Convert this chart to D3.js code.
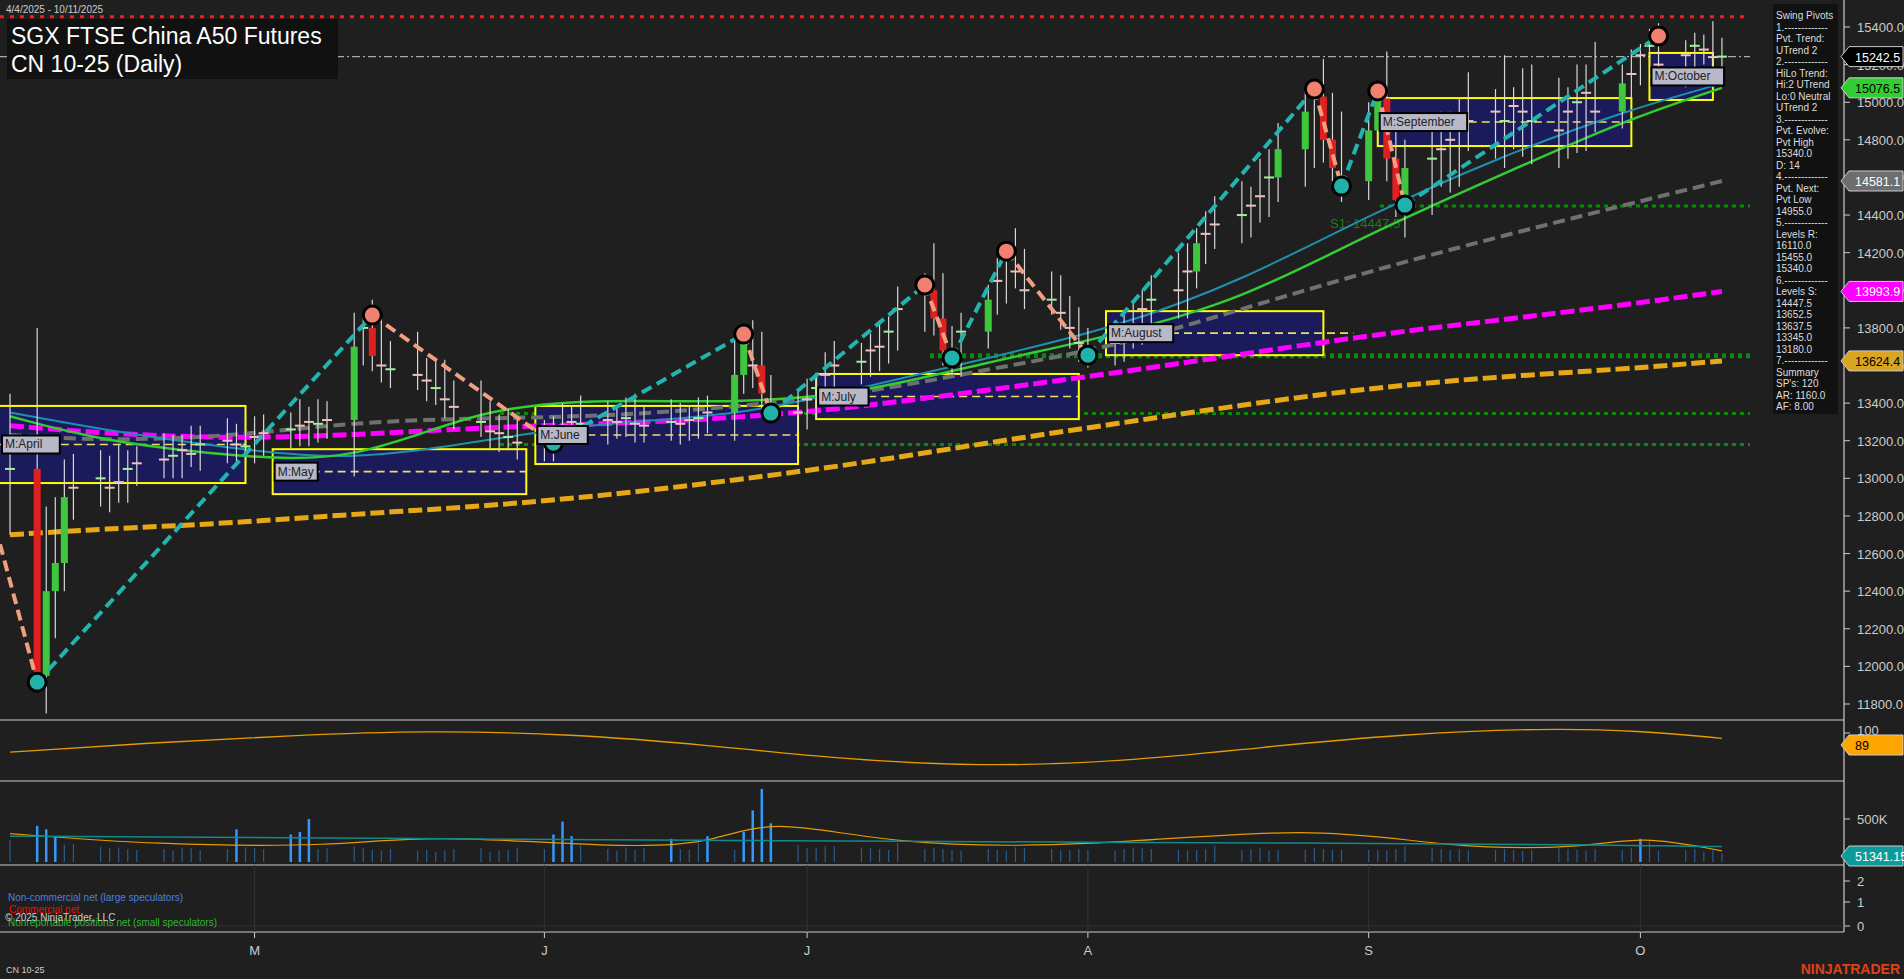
<!DOCTYPE html><html><head><meta charset="utf-8">
<script src="https://cdn.jsdelivr.net/npm/d3@7"></script>
<style>body{margin:0;background:#1f1f1f}svg{display:block}text{font-family:Arial,"Liberation Sans",sans-serif}</style></head><body>
<svg id="c" width="1904" height="979"></svg>
<script>
const startDate="2025-04-04";
const closes=[13050,11950,12400,12550,12900,12950,13000,12950,12980,13050,13080,13100,13120,13150,13130,13180,13200,13180,13170,13220,13240,13260,13280,13300,13290,13310,13700,13800,13650,13600,13580,13550,13520,13480,13420,13380,13300,13250,13240,13220,13190,13200,13250,13280,13300,13290,13310,13300,13320,13290,13280,13300,13290,13310,13320,13350,13550,13720,13600,13450,13380,13350,13420,13480,13550,13600,13620,13680,13700,13780,13900,14000,13850,13680,13650,13780,13950,14050,14180,14100,14000,13950,13880,13800,13720,13680,13720,13780,13820,13900,13950,14000,14100,14250,14300,14350,14400,14450,14500,14600,14750,14950,15030,14800,14650,14580,14850,15020,14700,14480,14650,14700,14750,14800,14850,14900,14950,14900,14980,14950,14900,14850,14950,15000,15050,14950,15100,15150,15250,15300,15200,15250,15300,15280,15240,15242.5];
const wickUp=[300,750,450,350,200,180,150,120,200,100,90,140,110,80,130,100,120,90,150,110,100,90,140,80,120,100,180,60,150,220,130,200,90,120,150,100,140,110,90,130,100,110,80,120,90,140,100,80,110,130,90,120,100,80,110,90,200,60,120,180,100,90,110,80,120,130,100,90,140,80,120,90,250,240,130,100,80,120,60,150,120,100,130,90,110,80,120,90,110,100,130,200,150,80,120,150,180,100,200,150,140,120,70,200,250,300,150,60,250,200,150,180,200,150,170,260,120,300,100,200,250,230,130,200,150,270,100,130,60,90,120,80,70,60,150,100];
const wickDn=[350,60,200,250,150,120,100,130,80,110,90,80,100,120,70,90,100,110,80,90,100,80,90,110,100,80,300,100,80,90,100,80,110,90,100,120,80,90,100,70,90,100,110,80,90,100,110,90,80,100,90,80,110,90,100,80,150,100,120,90,80,100,90,110,80,90,100,80,110,90,100,120,90,80,100,110,90,80,120,90,100,80,90,110,100,90,80,100,90,110,80,100,150,90,110,80,100,120,90,110,130,200,300,120,100,110,100,80,120,90,200,250,150,230,250,110,200,250,150,240,230,200,150,220,260,110,90,80,60,70,80,120,70,80,70,80];
const volume=[250,420,380,300,200,210,180,160,170,150,140,150,130,170,160,140,150,380,170,160,150,320,350,500,150,160,180,160,140,130,150,130,140,120,130,150,160,120,130,140,170,150,320,470,300,200,150,130,170,140,160,270,150,140,220,300,140,350,600,850,450,200,160,170,190,180,170,160,150,140,220,150,160,150,140,130,150,140,130,170,160,150,130,140,150,140,130,150,170,160,150,140,130,140,150,190,140,150,160,130,140,140,160,150,140,140,140,140,130,150,180,160,150,140,150,130,140,150,140,130,140,160,150,140,130,150,140,160,270,240,130,140,150,120,140,100];
const volAvgDates=["2025-04-04","2025-04-20","2025-05-10","2025-05-20","2025-06-10","2025-06-20","2025-06-27","2025-07-10","2025-08-01","2025-08-26","2025-09-10","2025-09-25","2025-10-01","2025-10-10"];
const volAvg=[330,200,180,320,170,200,520,200,170,430,160,160,310,130];
const volSlow=[300,290,280,270,260,250,250,240,230,220,210,200,190,180];
const oscDates=["2025-04-04","2025-04-20","2025-05-05","2025-05-20","2025-06-05","2025-06-20","2025-07-05","2025-07-20","2025-08-05","2025-08-20","2025-09-05","2025-09-20","2025-10-01","2025-10-10"];
const oscVals=[60,80,95,105,98,75,45,30,40,70,98,110,105,89];
const maDates=["2025-04-04","2025-04-14","2025-04-28","2025-05-12","2025-05-26","2025-06-09","2025-06-23","2025-07-07","2025-07-21","2025-08-04","2025-08-18","2025-09-01","2025-09-15","2025-09-29","2025-10-10"];
const maOrange=[12700,12730,12760,12810,12850,12910,12990,13080,13190,13290,13390,13480,13540,13580,13624.4];
const maMagenta=[13280,13240,13210,13230,13270,13290,13320,13380,13470,13560,13660,13760,13840,13920,13993.9];
const maGray=[13230,13200,13220,13300,13320,13330,13380,13450,13580,13700,13900,14100,14280,14450,14581.1];
const maGreen=[13330,13200,13120,13080,13380,13420,13400,13450,13620,13760,13950,14300,14600,14900,15076.5];
const maTeal=[13350,13260,13160,13090,13200,13300,13330,13480,13640,13800,14050,14400,14700,14950,15100];
const pivotDates=["2025-04-07","2025-05-14","2025-06-03","2025-06-24","2025-06-27","2025-07-14","2025-07-17","2025-07-23","2025-08-01","2025-08-26","2025-08-29","2025-09-02","2025-09-05","2025-10-03"];
const pivotVals=[11916,13868,13187,13767,13347,14028,13640,14208,13655,15070,14554,15060,14453,15352];
const monthNames=["M:April","M:May","M:June","M:July","M:August","M:September","M:October"];
const monthStart=["2025-04-01","2025-05-03","2025-06-01","2025-07-02","2025-08-03","2025-09-02","2025-10-02"];
const monthEnd=["2025-04-30","2025-05-31","2025-06-30","2025-07-31","2025-08-27","2025-09-30","2025-10-09"];
const monthHi=[13385,13155,13385,13555,13889,15022,15262];
const monthLo=[12975,12916,13076,13315,13655,14767,15012];
const supportLevels=[14447.5,13652.5,13345,13180];
const priceTicks=d3.range(11800,15401,200);
const sidebar=["Swing Pivots","1.-------------","Pvt. Trend:","UTrend 2","2.-------------","HiLo Trend:","Hi:2 UTrend","Lo:0 Neutral","UTrend 2","3.-------------","Pvt. Evolve:","Pvt High","15340.0","D: 14","4.-------------","Pvt. Next:","Pvt Low","14955.0","5.-------------","Levels R:","16110.0","15455.0","15340.0","6.-------------","Levels S:","14447.5","13652.5","13637.5","13345.0","13180.0","7.-------------","Summary","SP's: 120","AR: 1160.0","AF: 8.00"];
const tags=[{v:15242.5,t:"15242.5",bg:"#000",fg:"#fff"},{v:15076.5,t:"15076.5",bg:"#32cd32",fg:"#000"},{v:14581.1,t:"14581.1",bg:"#6e6e6e",fg:"#fff"},{v:13993.9,t:"13993.9",bg:"#ff00ff",fg:"#fff"},{v:13624.4,t:"13624.4",bg:"#daa520",fg:"#000"}];

const svg=d3.select("#c"),P=d3.timeParse("%Y-%m-%d");
svg.append("rect").attr("width",1904).attr("height",979).attr("fill","#1f1f1f");
const AX=1844;
const x=d3.scaleTime().domain([P("2025-04-04"),P("2025-10-11")]).range([10,1731]);
const y=d3.scaleLinear().domain([11800,15400]).range([704,27]);
let dates=[],d=P(startDate);
while(dates.length<closes.length){if(d.getDay()%6!==0)dates.push(new Date(d));d=d3.timeDay.offset(d,1);}
const g=svg.append("g");
svg.append("clipPath").attr("id","cp").append("rect").attr("x",0).attr("y",0).attr("width",AX).attr("height",720);
const pg=g.append("g").attr("clip-path","url(#cp)");
pg.append("line").attr("x1",0).attr("x2",1750).attr("y1",y(15455)).attr("y2",y(15455)).attr("stroke","#ff1a1a").attr("stroke-width",3).attr("stroke-dasharray","4,6");
pg.append("line").attr("x1",0).attr("x2",1750).attr("y1",y(15242.5)).attr("y2",y(15242.5)).attr("stroke","#aaa").attr("stroke-width",1.2).attr("stroke-dasharray","8,3,2,3");
supportLevels.forEach((v,i)=>pg.append("line").attr("x1",i==0?1380:(i==1?930:500)).attr("x2",1750).attr("y1",y(v)).attr("y2",y(v)).attr("stroke","#0a8a0a").attr("stroke-width",i==1?5:3).attr("stroke-dasharray","4,4"));
pg.append("text").attr("x",1330).attr("y",y(14447.5)+22).attr("fill","#1c7a1c").attr("font-size",13).text("S1: 14447.5");
pg.append("text").attr("x",455).attr("y",y(13180)+32).attr("fill","#1c5a7a").attr("font-size",13).text("S5: 13180.0");
monthNames.forEach((m,i)=>{const x0=x(P(monthStart[i])),x1=x(P(monthEnd[i]));
 pg.append("rect").attr("x",x0).attr("width",x1-x0).attr("y",y(monthHi[i])).attr("height",y(monthLo[i])-y(monthHi[i])).attr("fill","#1b1b5c").attr("stroke","#ffff00").attr("stroke-width",2);
 const mid=(monthHi[i]+monthLo[i])/2;
 pg.append("line").attr("x1",x0).attr("x2",x1+(i==4?30:0)).attr("y1",y(mid)).attr("y2",y(mid)).attr("stroke","#e8e060").attr("stroke-width",1.6).attr("stroke-dasharray","8,5");
});
const ln=d3.line().x((d,i)=>x(P(maDates[i]))).y(v=>y(v)).curve(d3.curveBasis);
pg.append("path").attr("d",ln(maOrange)).attr("fill","none").attr("stroke","#e6a817").attr("stroke-width",5).attr("stroke-dasharray","14,5");
pg.append("path").attr("d",ln(maMagenta)).attr("fill","none").attr("stroke","#ff00ff").attr("stroke-width",5).attr("stroke-dasharray","14,5");
pg.append("path").attr("d",ln(maGray)).attr("fill","none").attr("stroke","#707070").attr("stroke-width",4).attr("stroke-dasharray","12,6");
pg.append("path").attr("d",ln(maTeal)).attr("fill","none").attr("stroke","#1f8fb0").attr("stroke-width",2);
pg.append("path").attr("d",ln(maGreen)).attr("fill","none").attr("stroke","#33cc33").attr("stroke-width",2.5);
dates.forEach((dt,i)=>{const c=closes[i],o=i?closes[i-1]:c+100,xx=x(dt);
 pg.append("line").attr("x1",xx).attr("x2",xx).attr("y1",y(Math.max(o,c)+wickUp[i])).attr("y2",y(Math.min(o,c)-wickDn[i])).attr("stroke","#d8d8d8").attr("stroke-width",1.2);
 const big=Math.abs(c-o)>140;
 if(big)pg.append("rect").attr("x",xx-3.5).attr("width",7).attr("y",y(Math.max(o,c))).attr("height",Math.max(2,Math.abs(y(o)-y(c)))).attr("fill",c>o?"#3ec73e":"#e02020");
 else pg.append("line").attr("x1",xx-5).attr("x2",xx+5).attr("y1",y(c)).attr("y2",y(c)).attr("stroke",i%3?"#f0c0c0":"#a0f0a0").attr("stroke-width",2);
});
for(let i=0;i<pivotVals.length-1;i++){const up=pivotVals[i+1]>pivotVals[i];
 pg.append("line").attr("x1",x(P(pivotDates[i]))).attr("y1",y(pivotVals[i])).attr("x2",x(P(pivotDates[i+1]))).attr("y2",y(pivotVals[i+1])).attr("stroke",up?"#22b5b0":"#f0a080").attr("stroke-width",4).attr("stroke-dasharray","11,6");}
pg.append("line").attr("x1",0).attr("y1",y(12650)).attr("x2",x(P(pivotDates[0]))).attr("y2",y(pivotVals[0])).attr("stroke","#f0a080").attr("stroke-width",4).attr("stroke-dasharray","11,6");
pivotVals.forEach((v,i)=>{const hi=i>0&&(v>pivotVals[i-1]);
 pg.append("circle").attr("cx",x(P(pivotDates[i]))).attr("cy",y(v)).attr("r",9).attr("fill",hi?"#f08070":"#20b2aa").attr("stroke","#000").attr("stroke-width",3);});
monthNames.forEach((m,i)=>{const x0=Math.max(0,x(P(monthStart[i]))),mid=(monthHi[i]+monthLo[i])/2;const w=m.length*7.4+6;
 pg.append("rect").attr("x",x0+2).attr("y",y(mid)-9).attr("width",w).attr("height",18).attr("fill","#b8b8c8").attr("stroke","#000").attr("stroke-width",2);
 pg.append("text").attr("x",x0+5).attr("y",y(mid)+4).attr("font-family","DejaVu Sans Mono,monospace").attr("font-size",12).attr("fill","#222").text(m);});
[720,781,865,932].forEach(v=>g.append("line").attr("x1",0).attr("x2",AX).attr("y1",v).attr("y2",v).attr("stroke","#ccc").attr("stroke-width",1.2));
g.append("line").attr("x1",AX).attr("x2",AX).attr("y1",0).attr("y2",932).attr("stroke","#ccc").attr("stroke-width",1.2);
priceTicks.forEach(v=>{g.append("line").attr("x1",AX).attr("x2",AX+6).attr("y1",y(v)).attr("y2",y(v)).attr("stroke","#ccc");
 g.append("text").attr("x",AX+13).attr("y",y(v)+5).attr("fill","#ccc").attr("font-size",13).text(v.toFixed(1));});
const yo=d3.scaleLinear().domain([0,100]).range([781,733]);
g.append("path").attr("d",d3.line().x((v,i)=>x(P(oscDates[i]))).y(v=>yo(v)).curve(d3.curveBasis)(oscVals)).attr("fill","none").attr("stroke","#e69b00").attr("stroke-width",1.3);
g.append("line").attr("x1",AX).attr("x2",AX+6).attr("y1",yo(100)).attr("y2",yo(100)).attr("stroke","#ccc");
g.append("text").attr("x",AX+13).attr("y",yo(100)+2).attr("fill","#ccc").attr("font-size",13).text("100");
const yv=d3.scaleLinear().domain([0,500]).range([862,819]);
dates.forEach((dt,i)=>g.append("line").attr("x1",x(dt)).attr("x2",x(dt)).attr("y1",yv(0)).attr("y2",yv(volume[i])).attr("stroke","#3399ff").attr("stroke-width",volume[i]>250?2.5:1.2).attr("opacity",volume[i]>250?1:0.5));
const vl=d3.line().x((v,i)=>x(P(volAvgDates[i]))).y(v=>yv(v)).curve(d3.curveBasis);
g.append("path").attr("d",vl(volAvg)).attr("fill","none").attr("stroke","#e69b00").attr("stroke-width",1.2);
g.append("path").attr("d",vl(volSlow)).attr("fill","none").attr("stroke","#138a8a").attr("stroke-width",1.5);
g.append("line").attr("x1",AX).attr("x2",AX+6).attr("y1",yv(500)).attr("y2",yv(500)).attr("stroke","#ccc");
g.append("text").attr("x",AX+13).attr("y",yv(500)+5).attr("fill","#ccc").attr("font-size",13).text("500K");
[[2,881],[1,902],[0,926]].forEach(([v,yy])=>{g.append("line").attr("x1",AX).attr("x2",AX+6).attr("y1",yy).attr("y2",yy).attr("stroke","#ccc");
 g.append("text").attr("x",AX+13).attr("y",yy+5).attr("fill","#ccc").attr("font-size",13).text(v);});
g.append("line").attr("x1",0).attr("x2",AX).attr("y1",926).attr("y2",926).attr("stroke","#333");
function tag(yy,t,bg,fg){g.append("path").attr("d",`M${AX-3},${yy} L${AX+5},${yy-10} H1903 V${yy+10} H${AX+5} Z`).attr("fill",bg).attr("stroke","#ccc").attr("stroke-width",1);
 g.append("text").attr("x",AX+11).attr("y",yy+5).attr("fill",fg).attr("font-size",12.5).text(t);}
tags.forEach(t=>tag(y(t.v),t.t,t.bg,t.fg));
tag(745,"89","#ffa500","#000");tag(856,"51341.15","#0f9a9a","#fff");
[["M","2025-05-01"],["J","2025-06-02"],["J","2025-07-01"],["A","2025-08-01"],["S","2025-09-01"],["O","2025-10-01"]].forEach(([t,dd])=>{const xx=x(P(dd));
 g.append("line").attr("x1",xx).attr("x2",xx).attr("y1",932).attr("y2",938).attr("stroke","#ccc");
 g.append("line").attr("x1",xx).attr("x2",xx).attr("y1",865).attr("y2",932).attr("stroke","#333");
 g.append("text").attr("x",xx).attr("y",955).attr("text-anchor","middle").attr("fill","#ccc").attr("font-size",13).text(t);});
g.append("rect").attr("x",1773).attr("y",4).attr("width",65).attr("height",410).attr("fill","#111");
sidebar.forEach((s,i)=>g.append("text").attr("x",1776).attr("y",19+i*11.5).attr("fill","#ddd").attr("font-size",10).text(s));
g.append("text").attr("x",6).attr("y",13).attr("fill","#ccc").attr("font-size",10).text("4/4/2025 - 10/11/2025");
g.append("rect").attr("x",7).attr("y",19).attr("width",331).attr("height",60).attr("fill","#111");
g.append("text").attr("x",11).attr("y",44).attr("fill","#fff").attr("font-size",23).text("SGX FTSE China A50 Futures");
g.append("text").attr("x",11).attr("y",72).attr("fill","#fff").attr("font-size",23).text("CN 10-25 (Daily)");
g.append("text").attr("x",8).attr("y",901).attr("fill","#4a7fe0").attr("font-size",10).text("Non-commercial net (large speculators)");
g.append("text").attr("x",9).attr("y",913).attr("fill","#f00").attr("font-size",10).text("Commercial net");
g.append("text").attr("x",8).attr("y",926).attr("fill","#2db82d").attr("font-size",10).text("Nonreportable positions net (small speculators)");
g.append("text").attr("x",5).attr("y",921).attr("fill","#ccc").attr("font-size",10).text("© 2025 NinjaTrader, LLC");
g.append("text").attr("x",6).attr("y",973).attr("fill","#ccc").attr("font-size",9).text("CN 10-25");
g.append("text").attr("x",1900).attr("y",974).attr("text-anchor","end").attr("fill","#e0401a").attr("font-size",14).attr("font-weight","bold").text("NINJATRADER");
</script></body></html>
